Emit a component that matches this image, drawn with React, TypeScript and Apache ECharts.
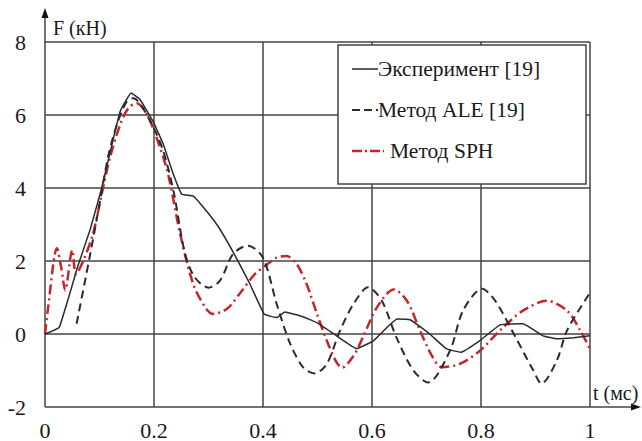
import { useEffect, useRef } from "react";
import * as echarts from "echarts";

const experiment: [number, number][] = [
  [0, 0], [0.026, 0.18], [0.06, 1.85], [0.083, 2.87], [0.104, 4.0], [0.123, 5.2],
  [0.138, 6.1], [0.158, 6.6], [0.174, 6.43], [0.198, 5.83], [0.217, 5.2], [0.235, 4.4],
  [0.251, 3.83], [0.272, 3.78], [0.3, 3.3], [0.321, 2.87], [0.349, 2.14], [0.376, 1.37],
  [0.402, 0.55], [0.425, 0.45], [0.44, 0.6], [0.468, 0.5], [0.499, 0.31], [0.535, -0.05],
  [0.572, -0.4], [0.603, -0.18], [0.646, 0.41], [0.67, 0.39], [0.706, 0], [0.737, -0.41],
  [0.763, -0.5], [0.798, -0.18], [0.835, 0.25], [0.877, 0.28], [0.914, -0.05], [0.94, -0.13],
  [0.97, -0.1], [1.0, -0.05],
];

const ale: [number, number][] = [
  [0.058, 0.28], [0.083, 2.19], [0.101, 3.64], [0.116, 4.87], [0.132, 5.74], [0.15, 6.37],
  [0.162, 6.46], [0.187, 6.0], [0.215, 5.1], [0.236, 3.9], [0.257, 2.19], [0.275, 1.55],
  [0.3, 1.27], [0.321, 1.46], [0.345, 2.19], [0.372, 2.42], [0.4, 2.09], [0.425, 0.83],
  [0.45, -0.27], [0.474, -0.92], [0.495, -1.08], [0.517, -0.82], [0.541, 0.08], [0.566, 0.82],
  [0.593, 1.28], [0.618, 0.91], [0.645, -0.1], [0.676, -1.0], [0.703, -1.33], [0.743, -0.46],
  [0.767, 0.64], [0.802, 1.24], [0.826, 0.91], [0.862, -0.05], [0.896, -1.0], [0.911, -1.36],
  [0.939, -0.73], [0.958, 0.1], [1.0, 1.13],
];

const sph: [number, number][] = [
  [0, 0], [0.005, 0.64], [0.022, 2.35], [0.03, 1.8], [0.037, 1.2], [0.05, 2.3], [0.057, 1.64],
  [0.07, 2.0], [0.088, 2.74], [0.104, 3.83], [0.119, 4.82], [0.138, 5.74], [0.153, 6.19],
  [0.168, 6.32], [0.186, 6.05], [0.205, 5.37], [0.226, 4.37], [0.248, 2.74], [0.272, 1.37],
  [0.294, 0.73], [0.308, 0.55], [0.334, 0.69], [0.361, 1.18], [0.385, 1.64], [0.407, 1.9],
  [0.425, 2.09], [0.443, 2.14], [0.462, 1.91], [0.48, 1.37], [0.499, 0.55], [0.517, -0.18],
  [0.535, -0.78], [0.545, -0.92], [0.566, -0.6], [0.583, -0.1], [0.609, 0.73], [0.64, 1.22],
  [0.664, 0.91], [0.688, 0.1], [0.71, -0.6], [0.728, -0.91], [0.761, -0.82], [0.798, -0.46],
  [0.835, 0.1], [0.877, 0.64], [0.921, 0.91], [0.958, 0.64], [0.982, 0.1], [1.0, -0.41],
];

const seriesNames = ["Эксперимент [19]", "Метод ALE [19]", "Метод SPH"];
const yAxisTitle = "F (кН)";
const xAxisTitle = "t (мс)";
const xMin = 0, xMax = 1, xStep = 0.2;
const yMin = -2, yMax = 8, yStep = 2;

const FONT = "Liberation Serif";
const INK = "#2b2b2b";
const GRIDC = "#444";
const RED = "#c4262c";

export default function App() {
  const ref = useRef<HTMLDivElement>(null);
  useEffect(() => {
    document.body.style.margin = "0";
    const chart = echarts.init(ref.current!, null, { renderer: "svg" });
    const grid = { left: 45, right: 52, top: 42, bottom: 34 };
    const W = 642, H = 441;
    const x0 = grid.left, x1 = W - grid.right, yTop = grid.top, yBot = H - grid.bottom;
    const lg = { x: 338, y: 45, w: 248, h: 139 };
    const rows = [69, 110, 151];
    const styles: any[] = [
      { stroke: INK, lineWidth: 1.5 },
      { stroke: INK, lineWidth: 2, lineDash: [8, 4] },
      { stroke: RED, lineWidth: 2.5, lineDash: [10, 3, 2, 3] },
    ];
    const label = (t: string, x: number, y: number, size: number) => ({
      type: "text", x, y, z: 21,
      style: { text: t, fontFamily: FONT, fontSize: size, fill: "#1a1a1a", verticalAlign: "middle" },
    });
    chart.setOption({
      animation: false,
      backgroundColor: "#fff",
      textStyle: { fontFamily: FONT },
      grid: { ...grid, containLabel: false },
      xAxis: {
        type: "value", min: xMin, max: xMax, interval: xStep,
        axisLine: { show: false }, axisTick: { show: false },
        axisLabel: { fontFamily: FONT, fontSize: 22, color: "#1a1a1a", margin: 12 },
        splitLine: { show: true, lineStyle: { color: GRIDC, width: 1.5 } },
      },
      yAxis: {
        type: "value", min: yMin, max: yMax, interval: yStep,
        axisLine: { show: false }, axisTick: { show: false },
        axisLabel: { fontFamily: FONT, fontSize: 22, color: "#1a1a1a", margin: 19 },
        splitLine: { show: true, lineStyle: { color: GRIDC, width: 1.5 } },
      },
      series: [
        {
          name: seriesNames[2], type: "line", data: sph, showSymbol: false, symbol: "none",
          smooth: 0.3, z: 3,
          lineStyle: { color: RED, width: 2.5, type: [10, 4, 2, 4] },
        },
        {
          name: seriesNames[1], type: "line", data: ale, showSymbol: false, symbol: "none",
          smooth: 0.3, z: 4,
          lineStyle: { color: INK, width: 2, type: [8, 5] },
        },
        {
          name: seriesNames[0], type: "line", data: experiment, showSymbol: false, symbol: "none",
          smooth: 0.1, z: 5,
          lineStyle: { color: INK, width: 1.5, type: "solid" },
        },
      ],
      graphic: [
        { type: "line", z: 10, shape: { x1: x0, y1: yTop, x2: x0, y2: 16 }, style: { stroke: GRIDC, lineWidth: 1.5 } },
        { type: "polygon", z: 10, shape: { points: [[x0 - 3.5, 18], [x0 + 3.5, 18], [x0, 8]] }, style: { fill: "#111" } },
        { type: "line", z: 10, shape: { x1: x1, y1: yBot, x2: 633, y2: yBot }, style: { stroke: GRIDC, lineWidth: 1.5 } },
        { type: "polygon", z: 10, shape: { points: [[631, yBot - 3.5], [631, yBot + 3.5], [641, yBot]] }, style: { fill: "#111" } },
        label(yAxisTitle, 53, 28, 20),
        label(xAxisTitle, 593, 393, 20),
        { type: "rect", z: 20, shape: { x: lg.x, y: lg.y, width: lg.w, height: lg.h }, style: { fill: "#fff", stroke: GRIDC, lineWidth: 1.5 } },
        ...rows.map((ry, i) => ({
          type: "line", z: 21, shape: { x1: 352, y1: ry, x2: i === 2 ? 384 : 378, y2: ry }, style: styles[i],
        })),
        ...rows.map((ry, i) => label(seriesNames[i], i === 2 ? 390 : 378, ry, 21.5)),
      ],
    });
    return () => chart.dispose();
  }, []);
  return <div ref={ref} style={{ width: 642, height: 441 }} />;
}
